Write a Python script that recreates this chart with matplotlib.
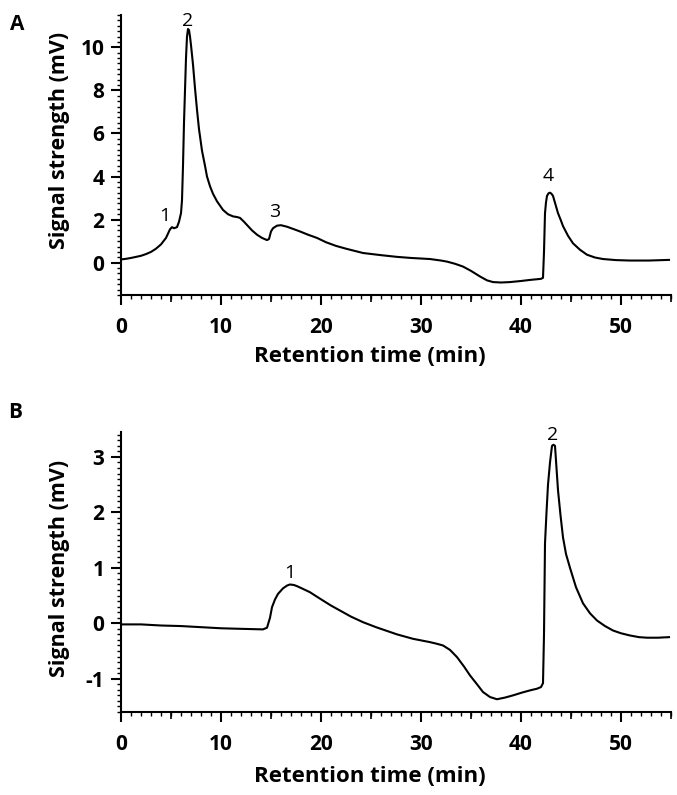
import matplotlib
matplotlib.use("Agg")
import matplotlib.pyplot as plt
import numpy as np
from matplotlib.ticker import MultipleLocator, NullFormatter

plt.rcParams['font.family'] = ['Open Sans', 'DejaVu Sans']
plt.rcParams['axes.unicode_minus'] = False

# chromatogram A (time in min, signal in mV)
time_a = [0, 0.5, 1, 1.5, 2, 2.5, 3, 3.5, 4, 4.5, 4.9, 5.1, 5.3, 5.6, 5.8,
          6.0, 6.1, 6.2, 6.3, 6.4, 6.5, 6.6, 6.7, 6.8, 6.9, 7.0, 7.2, 7.4,
          7.6, 7.8, 8.1, 8.4, 8.6, 8.9, 9.2, 9.6, 10.2, 10.7, 11.2, 11.6,
          11.9, 12.3, 12.7, 13.1, 13.6, 14.1, 14.6, 14.8, 15.0, 15.2, 15.6,
          16.0, 16.6, 17.2, 17.9, 18.7, 19.6, 20.5, 21.5, 22.5, 24.2, 26,
          27.6, 29, 30.9, 32, 32.6, 33.4, 34.2, 35, 35.9, 36.6, 37.2, 38,
          38.9, 40, 40.9, 42.0, 42.2, 42.3, 42.4, 42.5, 42.6, 42.75, 42.9,
          43.05, 43.2, 43.45, 43.7, 44.0, 44.2, 44.7, 45.2, 45.9, 46.6, 47.4,
          48.2, 49.5, 50.9, 52.8, 54.8]
signal_a = [0.15, 0.18, 0.22, 0.27, 0.32, 0.4, 0.5, 0.65, 0.85, 1.15, 1.55,
            1.65, 1.6, 1.65, 1.9, 2.3, 2.9, 4.5, 6.5, 8.0, 9.5, 10.5, 10.85,
            10.8, 10.5, 10.1, 9.2, 8.1, 7.1, 6.2, 5.2, 4.5, 4.0, 3.55, 3.2,
            2.85, 2.45, 2.25, 2.15, 2.12, 2.08, 1.9, 1.7, 1.5, 1.3, 1.15,
            1.05, 1.1, 1.45, 1.6, 1.72, 1.74, 1.67, 1.57, 1.45, 1.3, 1.15,
            0.95, 0.78, 0.65, 0.45, 0.35, 0.27, 0.22, 0.17, 0.1, 0.05, -0.05,
            -0.18, -0.38, -0.64, -0.82, -0.9, -0.92, -0.9, -0.85, -0.8,
            -0.75, -0.7, 0.5, 2.3, 2.8, 3.1, 3.22, 3.25, 3.2, 3.1, 2.7, 2.3,
            1.95, 1.7, 1.25, 0.9, 0.6, 0.37, 0.24, 0.17, 0.12, 0.1, 0.1, 0.13]
labels_a = ["1", "2", "3", "4"]
label_x_a = [4.4, 6.7, 15.4, 42.7]
label_y_a = [1.95, 11.0, 2.1, 3.8]

# chromatogram B
time_b = [0, 2, 4, 6, 8, 10, 12, 14.2, 14.6, 14.9, 15.1, 15.4, 15.7, 16.2,
          16.6, 16.9, 17.3, 17.6, 18.2, 18.9, 19.5, 20.2, 21, 22, 23, 24.2,
          25.5, 27.6, 29.2, 30.9, 31.6, 32.2, 32.9, 33.6, 34.3, 34.9, 35.6,
          36.2, 36.9, 37.6, 38.4, 39.2, 40.1, 40.9, 41.6, 42.0, 42.2, 42.3,
          42.4, 42.55, 42.7, 42.9, 43.1, 43.25, 43.4, 43.55, 43.7, 43.95,
          44.2, 44.5, 44.9, 45.5, 46.2, 46.9, 47.6, 48.4, 49.2, 50.0, 50.9,
          51.8, 52.6, 53.7, 54.8]
signal_b = [-0.02, -0.02, -0.04, -0.05, -0.07, -0.09, -0.1, -0.11, -0.08,
            0.1, 0.29, 0.43, 0.53, 0.63, 0.68, 0.7, 0.69, 0.67, 0.62, 0.56,
            0.49, 0.41, 0.32, 0.22, 0.12, 0.02, -0.07, -0.2, -0.28, -0.34,
            -0.37, -0.4, -0.48, -0.61, -0.78, -0.94, -1.1, -1.24, -1.33,
            -1.37, -1.34, -1.3, -1.25, -1.21, -1.18, -1.15, -1.08, -0.2, 1.44,
            2.0, 2.5, 2.9, 3.2, 3.22, 3.2, 2.8, 2.4, 1.95, 1.55, 1.25, 1.0,
            0.65, 0.36, 0.18, 0.05, -0.05, -0.13, -0.18, -0.22, -0.25, -0.26,
            -0.26, -0.25]
labels_b = ["1", "2"]
label_x_b = [16.9, 43.2]
label_y_b = [0.82, 3.3]

fig = plt.figure(figsize=(6.77, 7.95), dpi=100)
W, H = 677, 795


def make_axes(top, bottom):
    return fig.add_axes([121 / W, 1 - bottom / H, 550 / W, (bottom - top) / H])


def style(ax, ylim, ymaj, ymin, ylab_y, xlab_y):
    ax.set_xlim(0, 55)
    ax.set_ylim(*ylim)
    for s in ("top", "right"):
        ax.spines[s].set_visible(False)
    for s in ("left", "bottom"):
        ax.spines[s].set_linewidth(1.5)
    ax.xaxis.set_major_locator(MultipleLocator(10))
    ax.xaxis.set_minor_locator(MultipleLocator(1))
    ax.yaxis.set_major_locator(MultipleLocator(ymaj))
    ax.yaxis.set_minor_locator(MultipleLocator(ymin))
    ax.tick_params(which="major", length=7, width=1.5, labelsize=15,
                   direction="out")
    ax.tick_params(axis="x", which="major", pad=9)
    ax.tick_params(axis="y", which="major", pad=5)
    ax.tick_params(which="minor", length=3, width=1.0, direction="out")
    # mid ticks every 5 min
    sec = ax.secondary_xaxis("bottom")
    sec.set_xticks(np.arange(5, 56, 10))
    sec.xaxis.set_major_formatter(NullFormatter())
    sec.tick_params(length=5, width=1.2)
    sec.spines["bottom"].set_visible(False)
    ax.set_xlabel("Retention time (min)", fontsize=16, fontweight="bold")
    ax.set_ylabel("Signal strength (mV)", fontsize=15.5, fontweight="bold")
    ax.xaxis.label.set_va("center")
    ax.yaxis.label.set_va("center")
    ax.xaxis.set_label_coords(0.453, xlab_y)
    ax.yaxis.set_label_coords(-0.111, ylab_y)
    fig.canvas.draw()
    for lab in ax.get_xticklabels() + ax.get_yticklabels():
        lab.set_fontweight("bold")


ax1 = make_axes(15, 295)
ax1.plot(time_a, signal_a, color="black", lw=1.5)
style(ax1, (-1.5, 11.5), 2, 0.25, 0.553, -0.221)
for t, x, y in zip(labels_a, label_x_a, label_y_a):
    ax1.text(x, y, t, fontsize=14, ha="center", va="baseline")

ax2 = make_axes(432, 712)
ax2.plot(time_b, signal_b, color="black", lw=1.5)
style(ax2, (-1.6, 3.45), 1, 0.1, 0.514, -0.232)
for t, x, y in zip(labels_b, label_x_b, label_y_b):
    ax2.text(x, y, t, fontsize=14, ha="center", va="baseline")

fig.text(10 / W, 1 - 25 / H, "A", fontsize=15, fontweight="bold", va="center")
fig.text(8 / W, 1 - 412 / H, "B", fontsize=15, fontweight="bold", va="center")

fig.savefig("out.png", dpi=100)
